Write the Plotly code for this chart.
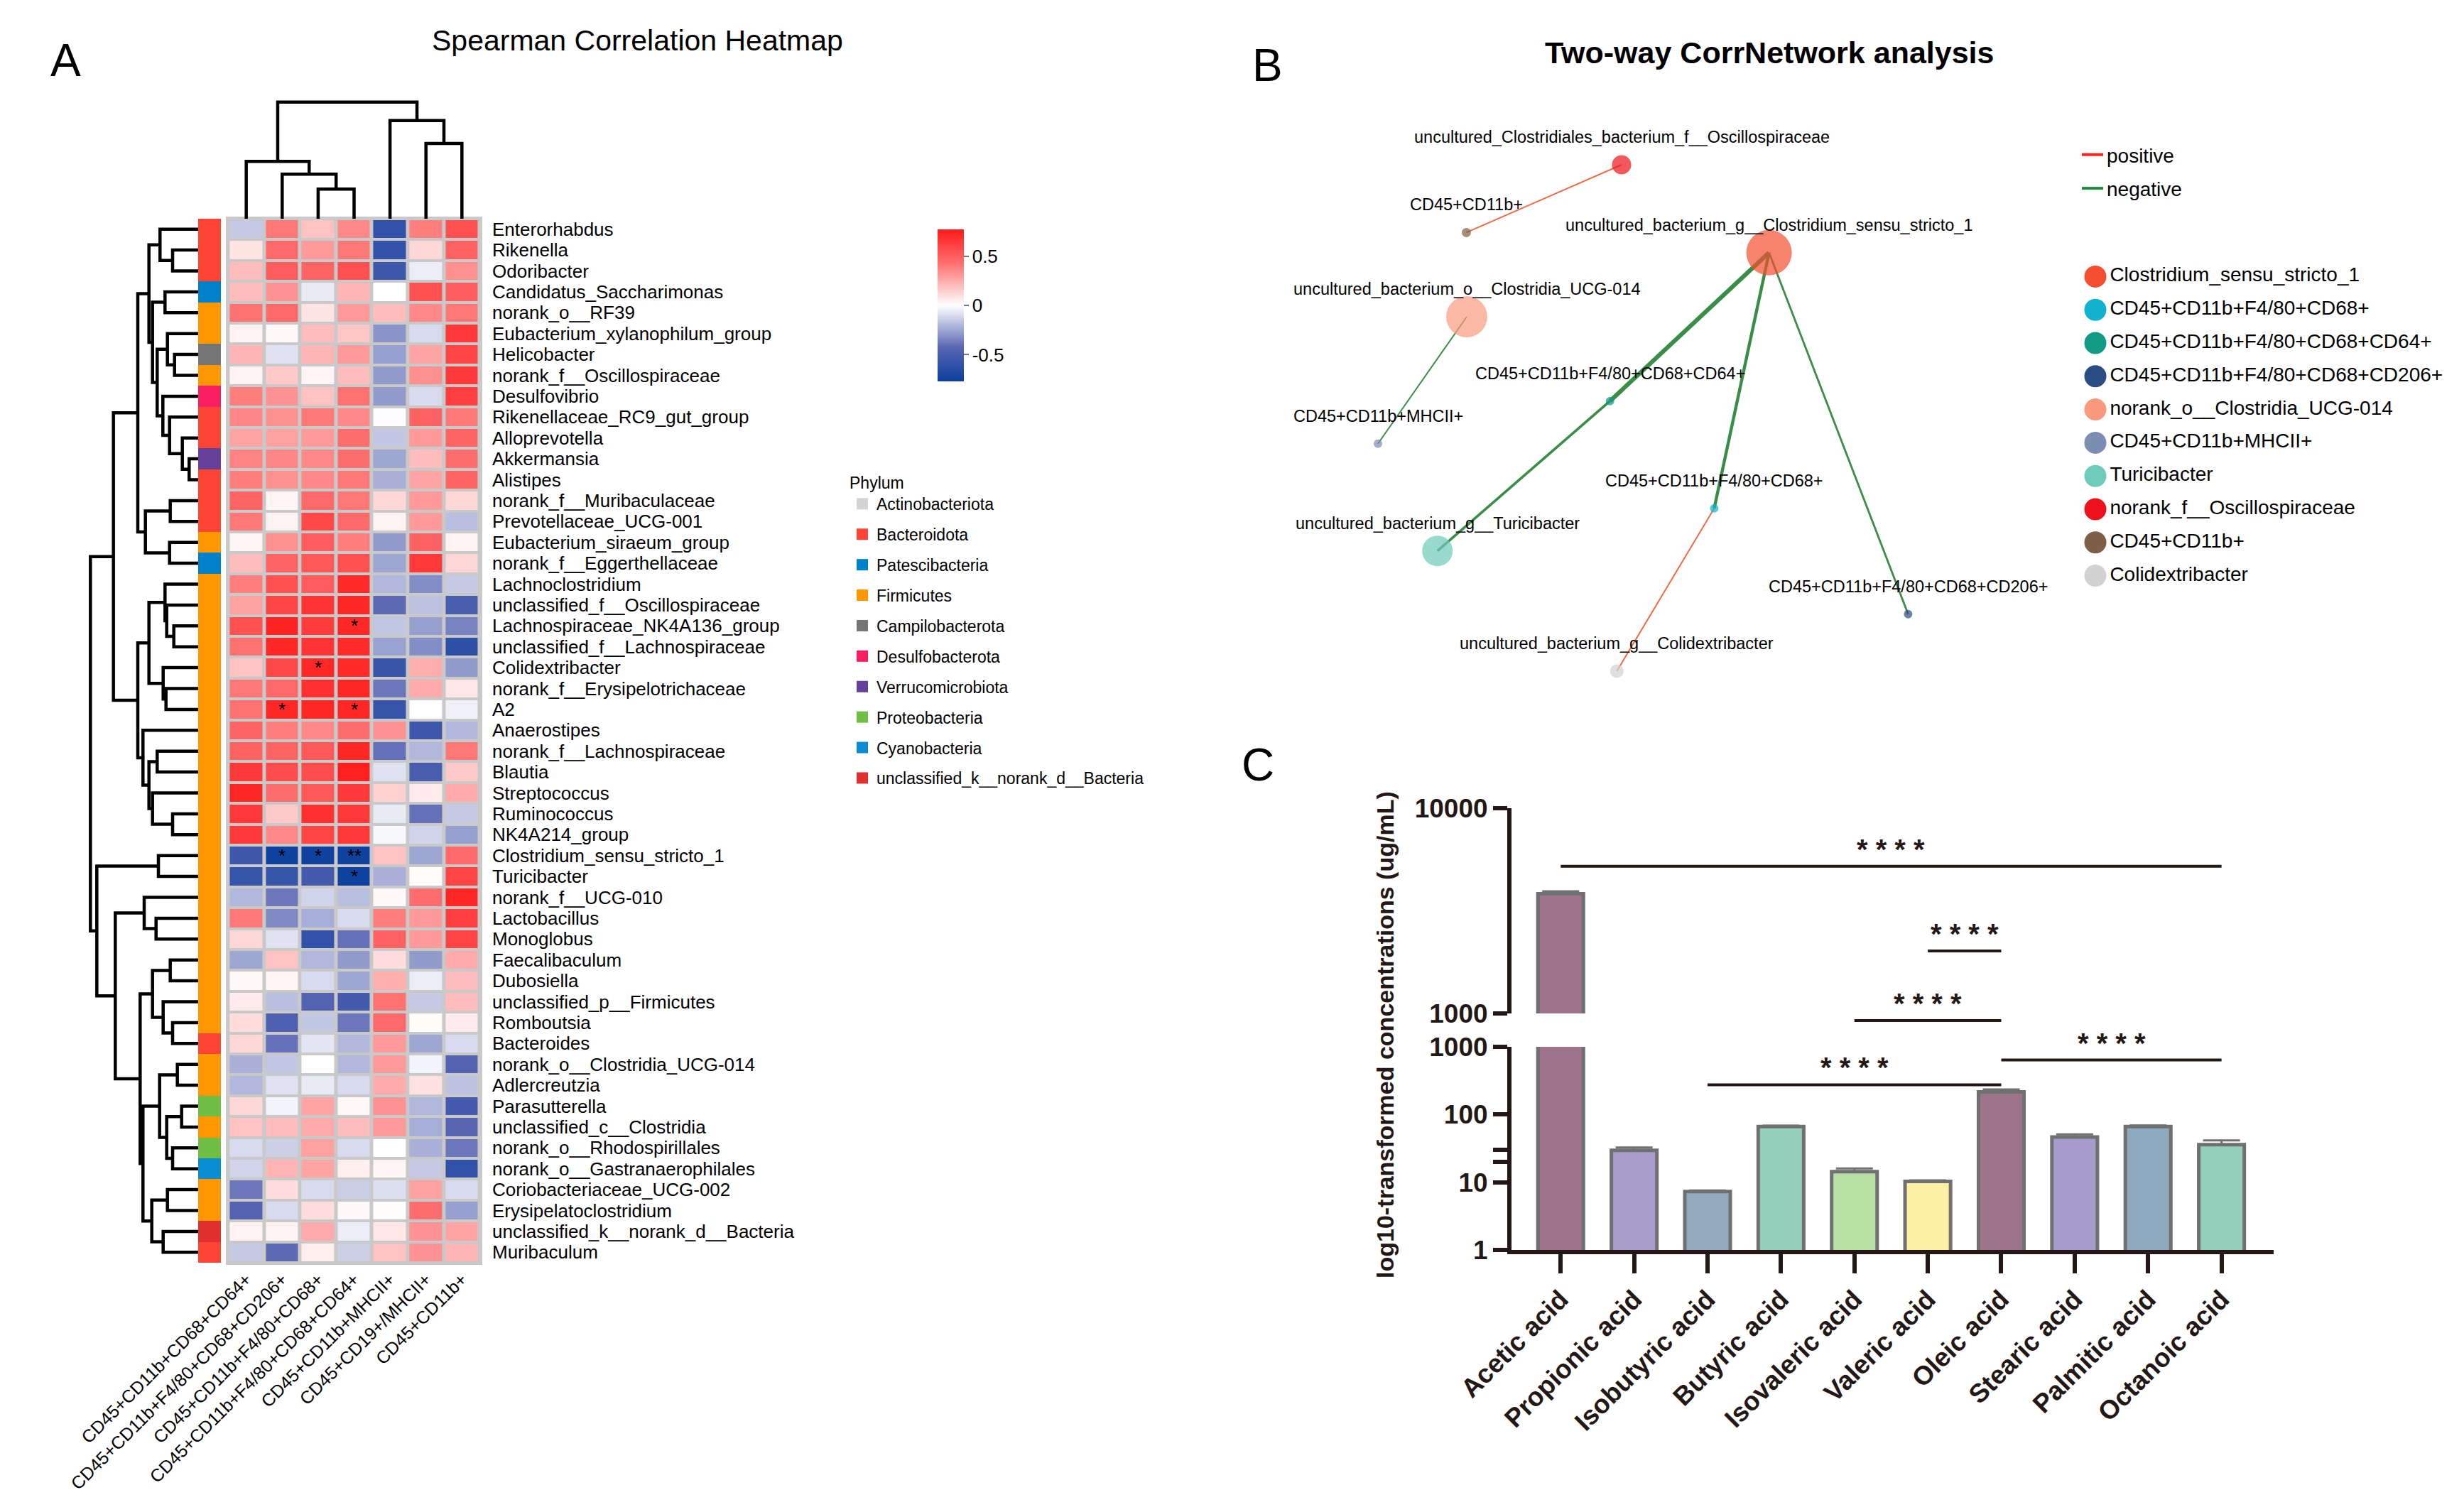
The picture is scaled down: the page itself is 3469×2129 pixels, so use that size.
import math
import plotly.graph_objects as go

W, H = 3469, 2129
FONT = "Liberation Sans, Arial, Helvetica, sans-serif"
INK = "#231815"


def px(x):
    return x / W


def py(y):
    return 1 - y / H


# ======================= Panel A : data =======================
taxa = [
    "Enterorhabdus", "Rikenella", "Odoribacter", "Candidatus_Saccharimonas", "norank_o__RF39",
    "Eubacterium_xylanophilum_group", "Helicobacter", "norank_f__Oscillospiraceae", "Desulfovibrio",
    "Rikenellaceae_RC9_gut_group", "Alloprevotella", "Akkermansia", "Alistipes", "norank_f__Muribaculaceae",
    "Prevotellaceae_UCG-001", "Eubacterium_siraeum_group", "norank_f__Eggerthellaceae", "Lachnoclostridium",
    "unclassified_f__Oscillospiraceae", "Lachnospiraceae_NK4A136_group", "unclassified_f__Lachnospiraceae",
    "Colidextribacter", "norank_f__Erysipelotrichaceae", "A2", "Anaerostipes", "norank_f__Lachnospiraceae",
    "Blautia", "Streptococcus", "Ruminococcus", "NK4A214_group", "Clostridium_sensu_stricto_1", "Turicibacter",
    "norank_f__UCG-010", "Lactobacillus", "Monoglobus", "Faecalibaculum", "Dubosiella",
    "unclassified_p__Firmicutes", "Romboutsia", "Bacteroides", "norank_o__Clostridia_UCG-014", "Adlercreutzia",
    "Parasutterella", "unclassified_c__Clostridia", "norank_o__Rhodospirillales",
    "norank_o__Gastranaerophilales", "Coriobacteriaceae_UCG-002", "Erysipelatoclostridium",
    "unclassified_k__norank_d__Bacteria", "Muribaculum",
]

cell_types = [
    "CD45+CD11b+CD68+CD64+", "CD45+CD11b+F4/80+CD68+CD206+", "CD45+CD11b+F4/80+CD68+",
    "CD45+CD11b+F4/80+CD68+CD64+", "CD45+CD11b+MHCII+", "CD45+CD19+/MHCII+", "CD45+CD11b+",
]

rho = [
    [-0.15, 0.40, 0.18, 0.35, -0.60, 0.38, 0.55],
    [0.08, 0.45, 0.30, 0.40, -0.60, 0.12, 0.48],
    [0.20, 0.50, 0.47, 0.55, -0.55, -0.05, 0.33],
    [0.20, 0.32, -0.06, 0.22, 0.00, 0.55, 0.50],
    [0.42, 0.45, 0.08, 0.30, 0.20, 0.35, 0.40],
    [0.04, 0.02, 0.20, 0.17, -0.30, -0.10, 0.65],
    [0.22, -0.08, 0.22, 0.30, -0.27, 0.27, 0.60],
    [0.04, 0.16, 0.03, 0.20, -0.28, 0.33, 0.65],
    [0.38, 0.32, 0.18, 0.42, -0.28, -0.10, 0.62],
    [0.36, 0.33, 0.40, 0.35, -0.01, 0.48, 0.40],
    [0.27, 0.28, 0.30, 0.43, -0.16, 0.30, 0.47],
    [0.37, 0.36, 0.35, 0.43, -0.25, 0.20, 0.43],
    [0.38, 0.33, 0.35, 0.40, -0.22, 0.27, 0.47],
    [0.47, 0.03, 0.45, 0.40, 0.12, 0.30, 0.12],
    [0.40, 0.04, 0.58, 0.45, 0.04, 0.30, -0.18],
    [0.03, 0.33, 0.50, 0.38, -0.28, 0.48, 0.04],
    [0.20, 0.47, 0.52, 0.55, -0.25, 0.65, 0.12],
    [0.38, 0.55, 0.50, 0.70, -0.20, -0.32, -0.15],
    [0.28, 0.60, 0.67, 0.72, -0.42, -0.17, -0.50],
    [0.55, 0.73, 0.63, 0.72, -0.16, -0.27, -0.35],
    [0.42, 0.72, 0.66, 0.70, -0.26, -0.32, -0.62],
    [0.18, 0.58, 0.72, 0.70, -0.57, 0.24, -0.28],
    [0.40, 0.45, 0.68, 0.72, -0.38, 0.25, 0.07],
    [0.42, 0.72, 0.72, 0.72, -0.58, 0.00, -0.04],
    [0.47, 0.38, 0.35, 0.43, 0.32, -0.55, -0.20],
    [0.48, 0.47, 0.52, 0.72, -0.40, -0.20, 0.40],
    [0.65, 0.57, 0.57, 0.75, -0.08, -0.50, 0.16],
    [0.72, 0.43, 0.52, 0.65, 0.14, 0.06, 0.25],
    [0.65, 0.16, 0.68, 0.65, -0.06, -0.40, -0.15],
    [0.65, 0.35, 0.60, 0.65, -0.02, -0.12, -0.27],
    [-0.55, -0.75, -0.75, -0.75, 0.18, -0.25, 0.45],
    [-0.58, -0.58, -0.52, -0.75, -0.22, 0.01, 0.60],
    [-0.20, -0.38, -0.12, -0.18, 0.02, 0.43, 0.72],
    [0.40, -0.33, -0.23, -0.10, 0.38, 0.30, 0.62],
    [0.12, -0.08, -0.60, -0.40, 0.48, 0.30, 0.60],
    [-0.25, 0.18, -0.20, -0.28, 0.10, -0.28, 0.25],
    [0.02, 0.03, -0.10, -0.25, 0.24, -0.05, 0.20],
    [0.06, -0.18, -0.45, -0.52, 0.42, -0.15, 0.20],
    [0.10, -0.47, -0.16, -0.38, 0.45, 0.01, 0.06],
    [0.12, -0.40, -0.07, -0.20, 0.30, -0.25, -0.10],
    [-0.22, -0.16, 0.00, -0.20, 0.30, -0.03, -0.45],
    [-0.20, -0.08, -0.06, -0.10, 0.25, 0.09, -0.17],
    [0.12, -0.03, 0.27, 0.02, 0.32, -0.20, -0.52],
    [0.18, 0.20, 0.25, 0.20, 0.30, -0.23, -0.44],
    [-0.10, -0.13, 0.28, -0.10, 0.00, -0.22, -0.38],
    [-0.12, 0.22, 0.27, 0.05, 0.03, -0.15, -0.60],
    [-0.38, 0.10, -0.10, -0.14, -0.09, 0.28, -0.10],
    [-0.45, -0.10, 0.10, 0.02, 0.01, 0.43, -0.27],
    [0.04, 0.04, 0.25, -0.05, 0.07, 0.32, 0.27],
    [-0.15, -0.42, 0.05, -0.13, 0.18, 0.32, 0.22],
]

significance = [
    ("Lachnospiraceae_NK4A136_group", "CD45+CD11b+F4/80+CD68+CD64+", "*"),
    ("Colidextribacter", "CD45+CD11b+F4/80+CD68+", "*"),
    ("A2", "CD45+CD11b+F4/80+CD68+CD206+", "*"),
    ("A2", "CD45+CD11b+F4/80+CD68+CD64+", "*"),
    ("Clostridium_sensu_stricto_1", "CD45+CD11b+F4/80+CD68+CD206+", "*"),
    ("Clostridium_sensu_stricto_1", "CD45+CD11b+F4/80+CD68+", "*"),
    ("Clostridium_sensu_stricto_1", "CD45+CD11b+F4/80+CD68+CD64+", "**"),
    ("Turicibacter", "CD45+CD11b+F4/80+CD68+CD64+", "*"),
]

phyla = [
    "Actinobacteriota", "Bacteroidota", "Patescibacteria", "Firmicutes", "Campilobacterota",
    "Desulfobacterota", "Verrucomicrobiota", "Proteobacteria", "Cyanobacteria",
    "unclassified_k__norank_d__Bacteria",
]
phylum_colors = [
    "#D3D3D3", "#FE4535", "#0080C8", "#FE9700", "#757575",
    "#F91F62", "#65409A", "#70BF44", "#0A8DD2", "#E0302E",
]
taxon_phylum = (
    ["Bacteroidota"] * 3 + ["Patescibacteria"] + ["Firmicutes"] * 2 + ["Campilobacterota"]
    + ["Firmicutes"] + ["Desulfobacterota"] + ["Bacteroidota"] * 2 + ["Verrucomicrobiota"]
    + ["Bacteroidota"] * 3 + ["Firmicutes"] + ["Patescibacteria"] + ["Firmicutes"] * 22
    + ["Bacteroidota"] + ["Firmicutes"] * 2 + ["Proteobacteria"] + ["Firmicutes"]
    + ["Proteobacteria"] + ["Cyanobacteria"] + ["Firmicutes"] * 2
    + ["unclassified_k__norank_d__Bacteria"] + ["Bacteroidota"]
)

# hierarchical clustering merges: [height, left, right]; leaves are 1-based row / column numbers
row_tree = [152.7,
    [120.3,
        [86.0,
            [70.3,
                [54.7, 1, [37.0, 2, 3]],
                [65.3,
                    [47.7, 4, 5],
                    [58.7,
                        [44.3, 6, [34.3, 7, 8]],
                        [50.7, 9, [41.3, 10, [23.3, 11, [13.7, 12, 13]]]]]]],
            [75.3, [40.3, 14, 15], [41.3, 16, 17]]],
        [86.0,
            [70.3,
                [47.7, 18, [45.3, 19, [35.3, 20, 21]]],
                [50.3, 22, [46.3, 23, 24]]],
            [78.7, 25, [70.3, [58.7, 26, 27], [65.3, 28, [37.0, 29, 30]]]]]],
    [143.7,
        [57.0, 31, 32],
        [117.7,
            [77.0, 33, [60.3, 34, 35]],
            [82.7,
                [65.3, [40.3, 36, 37], [50.3, 38, [37.0, 39, 40]]],
                [78.7,
                    [55.3, [30.3, 41, 42], [45.3, [24.3, 43, 44], [37.0, 45, 46]]],
                    [66.3, [44.3, 47, 48], [50.3, 49, 50]]]]]]]

col_tree = [164.3, [80.7, 1, [62.7, 2, [41.7, 3, 4]]], [138.3, 5, [106.0, 6, 7]]]

# ======================= Panel B : data =======================
net_labels = [
    "uncultured_Clostridiales_bacterium_f__Oscillospiraceae", "CD45+CD11b+",
    "uncultured_bacterium_g__Clostridium_sensu_stricto_1", "uncultured_bacterium_o__Clostridia_UCG-014",
    "CD45+CD11b+F4/80+CD68+CD64+", "CD45+CD11b+MHCII+", "CD45+CD11b+F4/80+CD68+",
    "uncultured_bacterium_g__Turicibacter", "CD45+CD11b+F4/80+CD68+CD206+",
    "uncultured_bacterium_g__Colidextribacter",
]
net_key = [
    "norank_f__Oscillospiraceae", "CD45+CD11b+", "Clostridium_sensu_stricto_1",
    "norank_o__Clostridia_UCG-014", "CD45+CD11b+F4/80+CD68+CD64+", "CD45+CD11b+MHCII+",
    "CD45+CD11b+F4/80+CD68+", "Turicibacter", "CD45+CD11b+F4/80+CD68+CD206+", "Colidextribacter",
]
# network layout coordinates
net_x = [475, 256.5, 682.6, 257, 458.7, 132, 605.4, 215.7, 878.4, 468.3]
net_y = [84, 179.4, 207.8, 298, 416.7, 476.7, 567.8, 627.7, 716.7, 797]
# edges: (node a, node b, correlation), 1-based node numbers
net_edges = [
    (3, 5, -0.80), (5, 8, -0.65), (3, 7, -0.70), (3, 9, -0.60),
    (4, 6, -0.55), (1, 2, 0.55), (7, 10, 0.55),
]
key_order = [
    "Clostridium_sensu_stricto_1", "CD45+CD11b+F4/80+CD68+", "CD45+CD11b+F4/80+CD68+CD64+",
    "CD45+CD11b+F4/80+CD68+CD206+", "norank_o__Clostridia_UCG-014", "CD45+CD11b+MHCII+",
    "Turicibacter", "norank_f__Oscillospiraceae", "CD45+CD11b+", "Colidextribacter",
]
key_colors = [
    "#F44E2E", "#10B2CE", "#139A85", "#2B4C83", "#F99A7F",
    "#7C8DB2", "#6DCBBA", "#EC111A", "#7E5E44", "#D2D2D2",
]
edge_signs = ["positive", "negative"]

# ======================= Panel C : data =======================
acids = ["Acetic acid", "Propionic acid", "Isobutyric acid", "Butyric acid", "Isovaleric acid",
         "Valeric acid", "Oleic acid", "Stearic acid", "Palmitic acid", "Octanoic acid"]
conc_mean = [3830, 29.6, 7.3, 66.5, 14.3, 10.3, 216, 46.6, 66.5, 36.0]
conc_sd = [106, 3.0, 0.25, 2.0, 1.7, 0.35, 19, 4.4, 2.5, 5.6]
# pairwise comparisons: (from acid, to acid, bracket level in ug/mL, label)
comparisons = [
    (0, 9, 5213, "* * * *"),
    (5, 6, 2018, "* * * *"),
    (4, 6, 923, "* * * *"),
    (2, 6, 275, "* * * *"),
    (6, 9, 638, "* * * *"),
]

# ======================= styles =======================
heat_scale = [[0, "#0A3F9E"], [0.22, "#5865B2"], [0.5, "#FFFFFF"], [0.78, "#FF6E6E"], [1, "#FF1A1A"]]
bar_colors = ["#9D748C", "#A89CCB", "#92A9BE", "#93CFBA", "#B8E2A4",
              "#FDF0A4", "#9D748C", "#A69CCB", "#8FA9BE", "#93CFBA"]
node_sizes = [27, 13, 64, 58, 12, 12, 12, 43, 12, 19]
edge_color = {"positive": "#F26B45", "negative": "#3A8D47"}
legend_edge_color = {"positive": "#FF2020", "negative": "#1F8B3B"}


def tree_lines(node, xs, hs):
    """Return (leaf position, height) and append elbow segments of a dendrogram."""
    if isinstance(node, int):
        return node - 1, 0.0
    h, left, right = node
    pl, hl = tree_lines(left, xs, hs)
    pr, hr = tree_lines(right, xs, hs)
    xs += [pl, pl, pr, pr, None]
    hs += [hl, h, h, hr, None]
    return (pl + pr) / 2, h


fig = go.Figure()

# ---------- heatmap ----------
star_text = [["" for _ in cell_types] for _ in taxa]
for taxon, cell, mark in significance:
    star_text[taxa.index(taxon)][cell_types.index(cell)] = mark

fig.add_trace(go.Heatmap(
    z=rho, x=list(range(len(cell_types))), y=list(range(len(taxa))),
    colorscale=heat_scale, zmin=-0.77, zmax=0.77, xgap=5, ygap=4,
    text=star_text, texttemplate="%{text}", textfont=dict(size=26, color="black", family=FONT),
    hoverinfo="skip", xaxis="x", yaxis="y",
    colorbar=dict(x=px(1312), xanchor="left", y=py(315), yanchor="top", len=214, lenmode="pixels",
                  thickness=37, thicknessmode="pixels", tickvals=[-0.5, 0, 0.5], ticktext=["-0.5", "0", "0.5"],
                  ticks="outside", ticklen=7, tickwidth=2, tickcolor="#777777", outlinewidth=0,
                  tickfont=dict(size=26, color="black", family=FONT), xpad=0, ypad=0),
))

# phylum annotation bar
phylum_index = [phyla.index(p) for p in taxon_phylum]
n_ph = len(phyla)
phylum_scale = []
for k, c in enumerate(phylum_colors):
    phylum_scale += [[k / n_ph, c], [(k + 1) / n_ph, c]]
fig.add_trace(go.Heatmap(
    z=[[k] for k in phylum_index], x=[0], y=list(range(len(taxa))),
    colorscale=phylum_scale, zmin=-0.5, zmax=n_ph - 0.5, showscale=False,
    hoverinfo="skip", xaxis="x3", yaxis="y",
))

# dendrograms
rx, rh = [], []
tree_lines(row_tree, rx, rh)
fig.add_trace(go.Scatter(x=rh, y=rx, mode="lines", line=dict(color="black", width=4.5),
                         xaxis="x2", yaxis="y", hoverinfo="skip", showlegend=False))
cx, ch = [], []
tree_lines(col_tree, cx, ch)
fig.add_trace(go.Scatter(x=cx, y=ch, mode="lines", line=dict(color="black", width=4.5),
                         xaxis="x", yaxis="y3", hoverinfo="skip", showlegend=False))

# phylum legend
for name, col in zip(phyla, phylum_colors):
    fig.add_trace(go.Scatter(x=[None], y=[None], mode="markers", name=name, legend="legend",
                             legendgroup=name, marker=dict(symbol="square", size=16, color=col),
                             xaxis="x", yaxis="y"))

# ---------- network ----------
for a, b, r in net_edges:
    sign = "positive" if r > 0 else "negative"
    fig.add_trace(go.Scatter(
        x=[net_x[a - 1], net_x[b - 1]], y=[net_y[a - 1], net_y[b - 1]], mode="lines",
        line=dict(color=edge_color[sign], width=2 + (abs(r) - 0.55) * 16),
        xaxis="x5", yaxis="y5", hoverinfo="skip", showlegend=False))

node_colors = [key_colors[key_order.index(k)] for k in net_key]
fig.add_trace(go.Scatter(
    x=net_x, y=net_y, mode="markers", marker=dict(size=node_sizes, color=node_colors, line=dict(width=0)),
    xaxis="x5", yaxis="y5", hoverinfo="skip", showlegend=False))

for s in edge_signs:
    fig.add_trace(go.Scatter(x=[None], y=[None], mode="lines", name=s, legend="legend2", legendgroup=s,
                             line=dict(color=legend_edge_color[s], width=4), xaxis="x5", yaxis="y5"))

# node key
fig.add_trace(go.Scatter(
    x=[0] * len(key_order), y=key_order, mode="markers+text", text=key_order,
    textposition="middle right", textfont=dict(size=28, color="black", family=FONT),
    marker=dict(size=31, color=key_colors), cliponaxis=False,
    xaxis="x6", yaxis="y6", hoverinfo="skip", showlegend=False))

# ---------- bar chart (broken log axis) ----------
for yax in ["y7", "y8"]:
    fig.add_trace(go.Bar(
        x=list(range(len(acids))), y=conc_mean, width=0.62,
        marker=dict(color=bar_colors, line=dict(color="#707070", width=5)),
        error_y=dict(type="data", array=conc_sd, symmetric=False, arrayminus=[0] * len(acids),
                     color="#707070", thickness=3, width=26),
        xaxis="x7", yaxis=yax, hoverinfo="skip", showlegend=False))

shapes = [dict(type="rect", xref="x domain", yref="y domain", x0=0, x1=1, y0=0, y1=1,
               fillcolor="#C9C9C9", line=dict(width=0), layer="below")]
annotations = []

seg_ranges = {"y8": (3.0, 4.0), "y7": (0.0, 3.0)}
for i, j, level, label in comparisons:
    ax = "y8" if level > 900 else "y7"
    lo, hi = seg_ranges[ax]
    frac = (math.log10(level) - lo) / (hi - lo)
    shapes.append(dict(type="line", xref="x7", yref=ax + " domain", x0=i, x1=j, y0=frac, y1=frac,
                       line=dict(color=INK, width=4)))
    annotations.append(dict(x=(i + j) / 2, y=frac, xref="x7", yref=ax + " domain", text=label,
                            showarrow=False, xanchor="center", yanchor="middle", yshift=24,
                            font=dict(size=40, color=INK, family=FONT, weight="bold")))

# ---------- texts ----------
for lab, x, y in zip(net_labels, net_x, net_y):
    annotations.append(dict(x=x, y=y, xref="x5", yref="y5", text=lab, showarrow=False, yshift=39,
                            xanchor="center", yanchor="middle",
                            font=dict(size=23.5, color="black", family=FONT)))


def paper_text(x, y, text, size, bold=False, angle=0, color="black"):
    return dict(x=px(x), y=py(y), xref="paper", yref="paper", text=text, showarrow=False,
                xanchor="center", yanchor="middle", textangle=angle,
                font=dict(size=size, color=color, family=FONT, weight="bold" if bold else "normal"))


annotations += [
    paper_text(84, 77, "A", 64),
    paper_text(1777, 84, "B", 64),
    paper_text(1763, 1069, "C", 64),
    paper_text(889, 49, "Spearman Correlation Heatmap", 41),
    paper_text(2483, 66, "Two-way CorrNetwork analysis", 43, bold=True),
    paper_text(1942, 1449, "log10-transformed concentrations (ug/mL)", 34, bold=True, angle=-90, color=INK),
]

bar_axis_style = dict(showline=True, linewidth=6, linecolor=INK, ticks="outside", ticklen=20, tickwidth=6,
                      tickcolor=INK, showgrid=False, zeroline=False, automargin=False,
                      tickfont=dict(size=37, color=INK, family=FONT, weight="bold"))
hidden = dict(visible=False, automargin=False)

rpad = 3 / 29.4
cpad = 0.067
fig.update_layout(
    width=W, height=H, margin=dict(l=0, r=0, t=0, b=0, autoexpand=False),
    paper_bgcolor="white", plot_bgcolor="rgba(0,0,0,0)",
    font=dict(family=FONT, color="black"), hovermode=False, showlegend=True,
    xaxis=dict(domain=[px(310), px(671)], range=[-0.5 - cpad, 6.5 + cpad], anchor="y", automargin=False,
               tickmode="array", tickvals=list(range(len(cell_types))), ticktext=cell_types, tickangle=-45,
               tickfont=dict(size=25, color="black", family=FONT), showgrid=False, zeroline=False, ticks=""),
    yaxis=dict(domain=[py(1773), py(297)], range=[len(taxa) - 0.5 + rpad, -0.5 - rpad], anchor="x",
               side="right", tickmode="array", tickvals=list(range(len(taxa))), ticktext=taxa,
               tickfont=dict(size=26, color="black", family=FONT), showgrid=False, zeroline=False,
               ticks="", ticklabelstandoff=13, automargin=False),
    xaxis2=dict(domain=[px(112), px(272)], range=[160, 0], anchor="y", **hidden),
    xaxis3=dict(domain=[px(271), px(303)], range=[-0.5, 0.5], anchor="y", **hidden),
    yaxis3=dict(domain=[py(300), py(132)], range=[0, 168], anchor="x", **hidden),
    xaxis5=dict(domain=[px(1800), px(2900)], range=[0, 1100], anchor="y5", **hidden),
    yaxis5=dict(domain=[py(980), py(140)], range=[840, 0], anchor="x5", **hidden),
    xaxis6=dict(domain=[px(2927), 1.0], range=[-15, 527], anchor="y6", **hidden),
    yaxis6=dict(domain=[py(826), py(358)], type="category", categoryorder="array",
                categoryarray=key_order, range=[len(key_order) - 0.5, -0.5], anchor="x6", **hidden),
    xaxis7=dict(domain=[px(2120), px(3193)], range=[-0.67, 9.71], anchor="y7", tickmode="array",
                tickvals=list(range(len(acids))), ticktext=acids, tickangle=-45,
                **{**bar_axis_style, "ticklen": 27}),
    yaxis7=dict(domain=[py(1752), py(1466)], type="log", range=[0, 3], anchor="x7", tickmode="array",
                tickvals=[1, 10, 20, 30, 100, 1000], ticktext=["1", "10", "", "", "100", "1000"],
                **bar_axis_style),
    yaxis8=dict(domain=[py(1419), py(1130)], type="log", range=[3, 4], anchor="x7", tickmode="array",
                tickvals=[1000, 10000], ticktext=["1000", "10000"], **bar_axis_style),
    legend=dict(x=px(1186), y=py(650), xanchor="left", yanchor="top", bgcolor="rgba(0,0,0,0)",
                title=dict(text="Phylum", font=dict(size=23, family=FONT, color="black")),
                font=dict(size=23, family=FONT, color="black"), tracegroupgap=10, traceorder="grouped",
                itemclick=False, itemdoubleclick=False),
    legend2=dict(x=px(2918), y=py(185), xanchor="left", yanchor="top", bgcolor="rgba(0,0,0,0)",
                 font=dict(size=28, family=FONT, color="black"), tracegroupgap=8, traceorder="grouped",
                 itemclick=False, itemdoubleclick=False),
    shapes=shapes, annotations=annotations,
)

fig.write_html("out.html")
